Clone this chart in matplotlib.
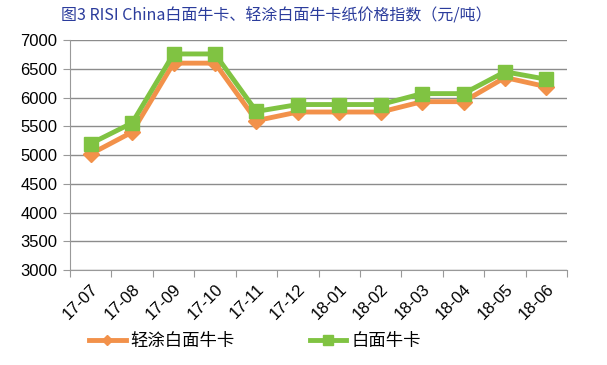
import matplotlib
matplotlib.use("Agg")
import matplotlib.pyplot as plt

plt.rcParams['font.family'] = ['Noto Sans CJK SC', 'DejaVu Sans']

categories = ["17-07", "17-08", "17-09", "17-10", "17-11", "17-12",
              "18-01", "18-02", "18-03", "18-04", "18-05", "18-06"]
coated = [5020, 5400, 6600, 6600, 5600, 5750, 5750, 5750, 5930, 5930, 6350, 6190]
uncoated = [5200, 5560, 6760, 6760, 5760, 5880, 5880, 5880, 6070, 6070, 6450, 6320]
yticks = [3000, 3500, 4000, 4500, 5000, 5500, 6000, 6500, 7000]

fig = plt.figure(figsize=(6.07, 3.65), dpi=100)
ax = fig.add_axes([0.1153, 0.260, 0.819, 0.630])

x = list(range(len(categories)))
orange = "#f2914a"
green = "#80c342"
ax.plot(x, coated, color=orange, lw=3.5, marker="D", ms=8, mec=orange, mfc=orange,
        label="轻涂白面牛卡", zorder=3)
ax.plot(x, uncoated, color=green, lw=3.5, marker="s", ms=10, mec=green, mfc=green,
        label="白面牛卡", zorder=4)

ax.set_xlim(-0.5, len(categories) - 0.5)
ax.set_ylim(3000, 7000)
ax.set_yticks(yticks)
ax.set_yticklabels([str(v) for v in yticks], fontsize=12, family=['Liberation Sans', 'DejaVu Sans'])
ax.set_xticks([i - 0.5 for i in range(len(categories) + 1)], minor=False)
ax.set_xticklabels([""] * (len(categories) + 1))
ax.set_xticks(x, minor=True)
ax.set_xticklabels(categories, minor=True, rotation=45, ha="right", rotation_mode="anchor",
                   fontsize=12, family=['Liberation Sans', 'DejaVu Sans'])
ax.tick_params(axis="x", which="minor", length=0, pad=8)
ax.tick_params(axis="x", which="major", length=5, color="#999999")
ax.tick_params(axis="y", length=5, color="#999999", pad=4)

ax.grid(axis="y", color="#8c8c8c", lw=1)
ax.set_axisbelow(True)
for s in ["top", "right"]:
    ax.spines[s].set_visible(False)
ax.spines["left"].set_color("#999999")
ax.spines["bottom"].set_color("#999999")

fig.text(0.100, 0.955, "图3 RISI China白面牛卡、轻涂白面牛卡纸价格指数（元/吨）",
         fontsize=11.5, color="#2b3c9c", ha="left", va="center")

leg = fig.legend(loc="center", bbox_to_anchor=(0.42, 0.065), ncol=2, frameon=False,
                 fontsize=12.5, columnspacing=4.3, handlelength=2.1, handletextpad=0.3,
                 markerscale=0.7)

fig.savefig("out.png", dpi=100)
